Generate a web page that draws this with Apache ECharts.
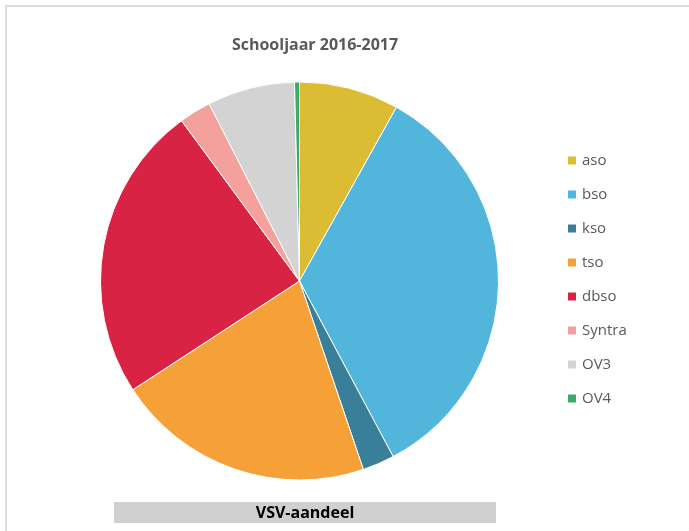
<!DOCTYPE html>
<html>
<head>
<meta charset="utf-8">
<script src="https://cdn.jsdelivr.net/npm/echarts@6/dist/echarts.min.js"></script>
<style>html,body{margin:0;padding:0;background:#fff}#c{width:689px;height:531px}</style>
</head>
<body>
<div id="c"></div>
<script>
var categories = ['aso', 'bso', 'kso', 'tso', 'dbso', 'Syntra', 'OV3', 'OV4'];
var values = [8.1, 34.1, 2.6, 21.0, 24.1, 2.6, 7.1, 0.4];
var colors = ['#DBBC33', '#52B5DB', '#3A7F99', '#F6A137', '#D92344', '#F4A19D', '#D3D3D3', '#3DAA6A'];
var titleText = 'Schooljaar 2016-2017';
var footerText = 'VSV-aandeel';

var chart = echarts.init(document.getElementById('c'));
chart.setOption({
  animation: false,
  color: colors,
  title: {
    text: titleText,
    left: 310, top: 32, textAlign: 'center',
    textStyle: { fontFamily: 'Open Sans', fontWeight: 'bold', fontSize: 16, color: '#595959' }
  },
  legend: {
    orient: 'vertical',
    left: 561, top: 148,
    itemWidth: 10, itemHeight: 10, itemGap: 19,
    icon: 'rect',
    textStyle: { fontFamily: 'Open Sans', fontSize: 15, color: '#595959' },
    data: categories
  },
  graphic: [
    { type: 'rect', shape: { x: 5, y: 5, width: 684, height: 2 }, style: { fill: '#DCDCDC' } },
    { type: 'rect', shape: { x: 5, y: 5, width: 2, height: 526 }, style: { fill: '#DCDCDC' } },
    { type: 'rect', shape: { x: 114, y: 502, width: 382, height: 21 }, style: { fill: '#D0D0D0' } },
    { type: 'text', x: 305, y: 513, style: { text: footerText, fill: '#000', font: 'bold 16px "Open Sans"', textAlign: 'center', textVerticalAlign: 'middle' } }
  ],
  series: [{
    type: 'pie',
    center: [299.5, 281],
    radius: 199,
    startAngle: 90,
    clockwise: true,
    label: { show: false },
    labelLine: { show: false },
    itemStyle: { borderColor: '#fff', borderWidth: 1 },
    data: categories.map(function (c, i) { return { name: c, value: values[i] }; })
  }]
});
</script>
</body>
</html>
